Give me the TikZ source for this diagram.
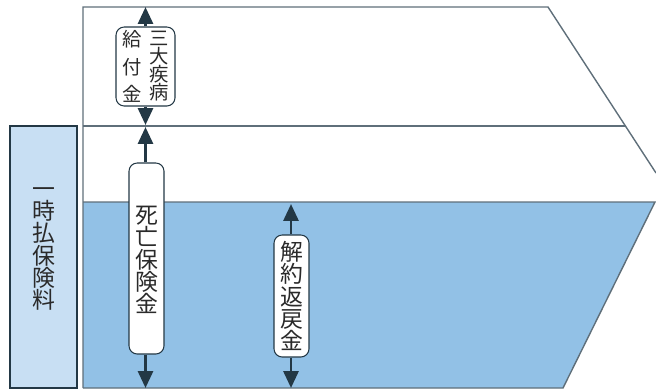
\documentclass[tikz,border=0pt]{standalone}
\usepackage{fontspec}
\usepackage{tikz}
\usetikzlibrary{arrows.meta,positioning}
\newfontfamily\jpfont{Noto Sans CJK JP}
\definecolor{polink}{HTML}{233845}
\definecolor{polline}{HTML}{5F6F7A}
\definecolor{polblue}{HTML}{92C1E6}
\definecolor{pollight}{HTML}{C8DFF3}
\definecolor{poltext}{HTML}{2A2A2A}

\begin{document}
\begin{tikzpicture}[x=0.03cm,y=-0.03cm,line join=miter,
  font=\jpfont\fontsize{19.5pt}{19pt}\selectfont,text=poltext,
  frameline/.style={polline,line width=1.2pt},
  benefit/.style={polink,line width=2.5pt,-{Triangle[width=12.8pt,length=14.5pt]}},
  tag/.style={draw=polink,line width=0.9pt,fill=white,rounded corners=7pt,inner sep=0pt},
  vtext/.style={align=center,inner sep=0pt}]
\useasboundingbox (0,0) rectangle (656,390);
% 解約返戻金の帯
\fill[polblue] (83,202)--(655,202)--(563,388)--(83,388)--cycle;
\draw[frameline] (83,202)--(655,202)--(563,388)--(83,388);
% 外枠と仕切り
\draw[frameline] (83,388)--(83,7)--(548,7)--(656,173);
\draw[frameline] (83,126)--(625,126);
% 一時払保険料
\draw[polink,line width=1.2pt,fill=pollight] (10,126) rectangle (77,388);
\node[vtext] (premium) at (43.5,249) {一\\時\\払\\保\\険\\料};
% 三大疾病給付金
\coordinate (citop) at (145.5,7);
\coordinate (cibot) at (145.5,125);
\node[tag,minimum width=1.77cm,minimum height=2.37cm] (cibox) at (145.5,66.5) {};
\node[vtext,font=\jpfont\fontsize{16.5pt}{15.4pt}\selectfont] (sandai) at (159,66.5) {三\\大\\疾\\病};
\node[vtext,font=\jpfont\fontsize{16.5pt}{23.4pt}\selectfont] (kyufu) at (132,66.5) {給\\付\\金};
\draw[benefit] (cibox.north) -- (citop);
\draw[benefit] (cibox.south) -- (cibot);
% 死亡保険金
\coordinate (dtop) at (145.5,127);
\coordinate (dbot) at (145.5,388);
\node[tag,minimum width=1.05cm,minimum height=5.73cm] (death) at (146.5,258.5) {};
\node[vtext] (deathtxt) at (146.5,260) {死\\亡\\保\\険\\金};
\draw[benefit] (death.north -| dtop) -- (dtop);
\draw[benefit] (death.south -| dbot) -- (dbot);
% 解約返戻金
\coordinate (stop) at (291,204);
\coordinate (sbot) at (291,388);
\node[tag,minimum width=1.05cm,minimum height=3.66cm] (surr) at (291.5,296) {};
\node[vtext] (surrtxt) at (291.5,296) {解\\約\\返\\戻\\金};
\draw[benefit] (surr.north -| stop) -- (stop);
\draw[benefit] (surr.south -| sbot) -- (sbot);
\end{tikzpicture}
\end{document}
